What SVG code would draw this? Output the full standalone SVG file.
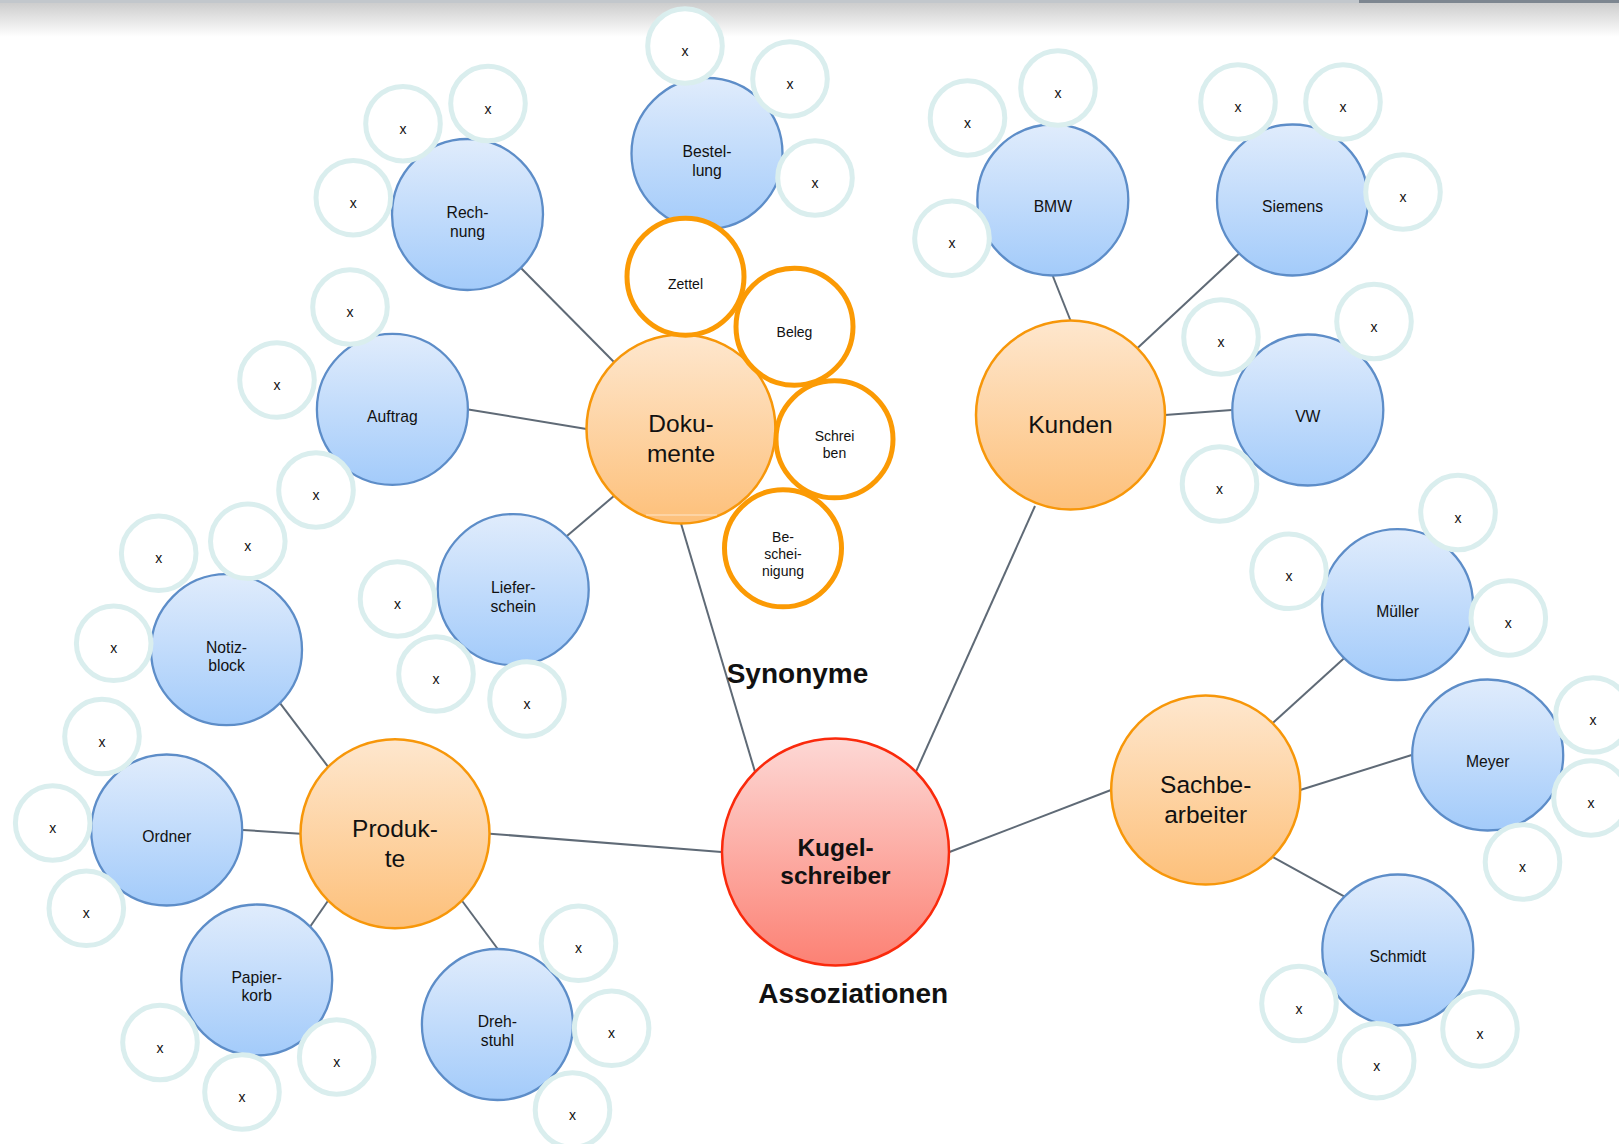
<svg xmlns="http://www.w3.org/2000/svg" width="1619" height="1144" viewBox="0 0 1619 1144">
<defs>
<linearGradient id="gBlue" x1="0" y1="0" x2="0" y2="1"><stop offset="0" stop-color="#e0ecfc"/><stop offset="1" stop-color="#a3cbfa"/></linearGradient>
<linearGradient id="gOrange" x1="0" y1="0" x2="0" y2="1"><stop offset="0" stop-color="#fee7ce"/><stop offset="1" stop-color="#fdc07a"/></linearGradient>
<linearGradient id="gRed" x1="0" y1="0" x2="0" y2="1"><stop offset="0" stop-color="#fdd8d5"/><stop offset="1" stop-color="#fc8174"/></linearGradient>
<linearGradient id="gTop" x1="0" y1="0" x2="0" y2="1"><stop offset="0" stop-color="#cdcdcd"/><stop offset="1" stop-color="#ffffff"/></linearGradient>
<style>
.blue{fill:url(#gBlue);stroke:#5d8dc8;stroke-width:2.3}
.orange{fill:url(#gOrange);stroke:#f7970a;stroke-width:2.5}
.red{fill:url(#gRed);stroke:#fa2a0c;stroke-width:2.5}
.syn{fill:#fff;stroke:#fb9a04;stroke-width:5}
.xc{fill:#fff;stroke:#daeeee;stroke-width:5}
.ln{stroke:#5f6a76;stroke-width:2;fill:none}
text{font-family:"Liberation Sans",Arial,sans-serif;fill:#111;text-anchor:middle}
.tb{font-size:15.7px}
.to{font-size:24.5px}
.tk{font-size:24.5px;font-weight:bold}
.ts{font-size:14px}
.tx{font-size:14px}
.lab{font-size:28px;font-weight:bold;text-anchor:start}
</style>
</defs>
<rect width="1619" height="1144" fill="#fff"/>
<rect x="0" y="3" width="1619" height="34" fill="url(#gTop)"/>
<rect x="0" y="0" width="1619" height="3" fill="#c2c7cc"/>
<rect x="1359" y="0" width="260" height="3" fill="#7d8690"/>

<g id="connectors">
<line class="ln" x1="681" y1="523.5" x2="754.9" y2="771.4"/>
<line class="ln" x1="1035" y1="506" x2="916.1" y2="771.4"/>
<line class="ln" x1="490" y1="833.7" x2="721.5" y2="852"/>
<line class="ln" x1="1111" y1="790" x2="949.5" y2="852"/>
<line class="ln" x1="614.2" y1="362.2" x2="521.2" y2="268.2"/>
<line class="ln" x1="586.5" y1="429" x2="468.4" y2="409.4"/>
<line class="ln" x1="614.2" y1="495.8" x2="566.9" y2="535.9"/>
<line class="ln" x1="1070.5" y1="320.5" x2="1052.8" y2="276"/>
<line class="ln" x1="1137.3" y1="348.2" x2="1238.8" y2="253.7"/>
<line class="ln" x1="1165" y1="415" x2="1231.8" y2="410"/>
<line class="ln" x1="1272.5" y1="723.2" x2="1343.8" y2="658.4"/>
<line class="ln" x1="1300.2" y1="790" x2="1411.7" y2="755"/>
<line class="ln" x1="1272.5" y1="856.8" x2="1344.1" y2="896.3"/>
<line class="ln" x1="328.2" y1="766.9" x2="280.2" y2="703.4"/>
<line class="ln" x1="300.5" y1="833.7" x2="242.7" y2="830"/>
<line class="ln" x1="328.2" y1="900.5" x2="310.4" y2="926.3"/>
<line class="ln" x1="461.8" y1="900.5" x2="497.4" y2="948.5"/>
</g>

<g id="kugelschreiber"><circle class="red" cx="835.5" cy="852" r="113.5"/><text class="tk" x="835.5" y="856">Kugel-</text><text class="tk" x="835.5" y="884">schreiber</text></g>
<g id="dokumente"><circle class="orange" cx="681" cy="429" r="94.5"/><line x1="646" y1="515" x2="717" y2="515" stroke="#fff" stroke-opacity="0.6" stroke-width="1"/><text class="to" x="681" y="431.7">Doku-</text><text class="to" x="681" y="461.7">mente</text></g>
<g id="kunden"><circle class="orange" cx="1070.5" cy="415" r="94.5"/><text class="to" x="1070.5" y="433.3">Kunden</text></g>
<g id="sachbearbeiter"><circle class="orange" cx="1205.7" cy="790" r="94.5"/><text class="to" x="1205.7" y="792.5">Sachbe-</text><text class="to" x="1205.7" y="822.5">arbeiter</text></g>
<g id="produkte"><circle class="orange" cx="395" cy="833.7" r="94.5"/><text class="to" x="395" y="836.5">Produk-</text><text class="to" x="395" y="866.5">te</text></g>

<g id="rechnung"><circle class="blue" cx="467.5" cy="214.5" r="75.5"/><text class="tb" x="467.5" y="217.7">Rech-</text><text class="tb" x="467.5" y="236.5">nung</text></g>
<g id="bestellung"><circle class="blue" cx="707" cy="153.5" r="75.5"/><text class="tb" x="707" y="156.7">Bestel-</text><text class="tb" x="707" y="175.5">lung</text></g>
<g id="auftrag"><circle class="blue" cx="392.4" cy="409.4" r="75.5"/><text class="tb" x="392.4" y="421.7">Auftrag</text></g>
<g id="lieferschein"><circle class="blue" cx="513.2" cy="589.6" r="75.5"/><text class="tb" x="513.2" y="592.8">Liefer-</text><text class="tb" x="513.2" y="611.6">schein</text></g>
<g id="bmw"><circle class="blue" cx="1052.8" cy="200" r="75.5"/><text class="tb" x="1052.8" y="212.3">BMW</text></g>
<g id="siemens"><circle class="blue" cx="1292.5" cy="200" r="75.5"/><text class="tb" x="1292.5" y="212.3">Siemens</text></g>
<g id="vw"><circle class="blue" cx="1307.8" cy="410" r="75.5"/><text class="tb" x="1307.8" y="422.3">VW</text></g>
<g id="mueller"><circle class="blue" cx="1397.5" cy="604.7" r="75.5"/><text class="tb" x="1397.5" y="617.2">Müller</text></g>
<g id="meyer"><circle class="blue" cx="1487.7" cy="755" r="75.5"/><text class="tb" x="1487.7" y="767.3">Meyer</text></g>
<g id="schmidt"><circle class="blue" cx="1397.8" cy="950" r="75.5"/><text class="tb" x="1397.8" y="962.3">Schmidt</text></g>
<g id="notizblock"><circle class="blue" cx="226.5" cy="649.7" r="75.5"/><text class="tb" x="226.5" y="652.7">Notiz-</text><text class="tb" x="226.5" y="671">block</text></g>
<g id="ordner"><circle class="blue" cx="166.7" cy="830" r="75.5"/><text class="tb" x="166.7" y="842.3">Ordner</text></g>
<g id="papierkorb"><circle class="blue" cx="256.7" cy="980" r="75.5"/><text class="tb" x="256.7" y="982.8">Papier-</text><text class="tb" x="256.7" y="1001.3">korb</text></g>
<g id="drehstuhl"><circle class="blue" cx="497.4" cy="1024.5" r="75.5"/><text class="tb" x="497.4" y="1027">Dreh-</text><text class="tb" x="497.4" y="1045.8">stuhl</text></g>

<g id="zettel"><circle class="syn" cx="685.5" cy="276.7" r="58.5"/><text class="ts" x="685.5" y="289">Zettel</text></g>
<g id="beleg"><circle class="syn" cx="794.5" cy="326.7" r="58.5"/><text class="ts" x="794.5" y="337.3">Beleg</text></g>
<g id="schreiben"><circle class="syn" cx="834.5" cy="439.3" r="58.5"/><text class="ts" x="834.5" y="441.3">Schrei</text><text class="ts" x="834.5" y="457.7">ben</text></g>
<g id="bescheinigung"><circle class="syn" cx="783" cy="548.3" r="58.5"/><text class="ts" x="783" y="542.3">Be-</text><text class="ts" x="783" y="559">schei-</text><text class="ts" x="783" y="575.7">nigung</text></g>

<g id="x1"><circle class="xc" cx="685" cy="46" r="37.3"/><text class="tx" x="685" y="56">x</text></g>
<g id="x2"><circle class="xc" cx="790" cy="79" r="37.3"/><text class="tx" x="790" y="89">x</text></g>
<g id="x3"><circle class="xc" cx="815" cy="178" r="37.3"/><text class="tx" x="815" y="188">x</text></g>
<g id="x4"><circle class="xc" cx="488" cy="103.5" r="37.3"/><text class="tx" x="488" y="113.5">x</text></g>
<g id="x5"><circle class="xc" cx="403" cy="123.7" r="37.3"/><text class="tx" x="403" y="133.7">x</text></g>
<g id="x6"><circle class="xc" cx="353.3" cy="197.7" r="37.3"/><text class="tx" x="353.3" y="207.7">x</text></g>
<g id="x7"><circle class="xc" cx="350" cy="307" r="37.3"/><text class="tx" x="350" y="317">x</text></g>
<g id="x8"><circle class="xc" cx="277" cy="380" r="37.3"/><text class="tx" x="277" y="390">x</text></g>
<g id="x9"><circle class="xc" cx="316" cy="490" r="37.3"/><text class="tx" x="316" y="500">x</text></g>
<g id="x10"><circle class="xc" cx="397.5" cy="599" r="37.3"/><text class="tx" x="397.5" y="609">x</text></g>
<g id="x11"><circle class="xc" cx="436" cy="674" r="37.3"/><text class="tx" x="436" y="684">x</text></g>
<g id="x12"><circle class="xc" cx="527" cy="699" r="37.3"/><text class="tx" x="527" y="709">x</text></g>
<g id="x13"><circle class="xc" cx="1058" cy="88" r="37.3"/><text class="tx" x="1058" y="98">x</text></g>
<g id="x14"><circle class="xc" cx="967.5" cy="118" r="37.3"/><text class="tx" x="967.5" y="128">x</text></g>
<g id="x15"><circle class="xc" cx="952" cy="238.3" r="37.3"/><text class="tx" x="952" y="248.3">x</text></g>
<g id="x16"><circle class="xc" cx="1238" cy="102" r="37.3"/><text class="tx" x="1238" y="112">x</text></g>
<g id="x17"><circle class="xc" cx="1343" cy="102" r="37.3"/><text class="tx" x="1343" y="112">x</text></g>
<g id="x18"><circle class="xc" cx="1403" cy="192" r="37.3"/><text class="tx" x="1403" y="202">x</text></g>
<g id="x19"><circle class="xc" cx="1221" cy="337" r="37.3"/><text class="tx" x="1221" y="347">x</text></g>
<g id="x20"><circle class="xc" cx="1374" cy="321.5" r="37.3"/><text class="tx" x="1374" y="331.5">x</text></g>
<g id="x21"><circle class="xc" cx="1219.5" cy="484" r="37.3"/><text class="tx" x="1219.5" y="494">x</text></g>
<g id="x22"><circle class="xc" cx="1458" cy="512.5" r="37.3"/><text class="tx" x="1458" y="522.5">x</text></g>
<g id="x23"><circle class="xc" cx="1289" cy="571.3" r="37.3"/><text class="tx" x="1289" y="581.3">x</text></g>
<g id="x24"><circle class="xc" cx="1508.3" cy="618" r="37.3"/><text class="tx" x="1508.3" y="628">x</text></g>
<g id="x25"><circle class="xc" cx="1593" cy="715" r="37.3"/><text class="tx" x="1593" y="725">x</text></g>
<g id="x26"><circle class="xc" cx="1591" cy="798" r="37.3"/><text class="tx" x="1591" y="808">x</text></g>
<g id="x27"><circle class="xc" cx="1522.5" cy="862" r="37.3"/><text class="tx" x="1522.5" y="872">x</text></g>
<g id="x28"><circle class="xc" cx="1299" cy="1003.5" r="37.3"/><text class="tx" x="1299" y="1013.5">x</text></g>
<g id="x29"><circle class="xc" cx="1376.7" cy="1060.7" r="37.3"/><text class="tx" x="1376.7" y="1070.7">x</text></g>
<g id="x30"><circle class="xc" cx="1480" cy="1029" r="37.3"/><text class="tx" x="1480" y="1039">x</text></g>
<g id="x31"><circle class="xc" cx="158.7" cy="553.3" r="37.3"/><text class="tx" x="158.7" y="563.3">x</text></g>
<g id="x32"><circle class="xc" cx="247.8" cy="541.3" r="37.3"/><text class="tx" x="247.8" y="551.3">x</text></g>
<g id="x33"><circle class="xc" cx="113.7" cy="643.3" r="37.3"/><text class="tx" x="113.7" y="653.3">x</text></g>
<g id="x34"><circle class="xc" cx="102" cy="736.5" r="37.3"/><text class="tx" x="102" y="746.5">x</text></g>
<g id="x35"><circle class="xc" cx="52.7" cy="823" r="37.3"/><text class="tx" x="52.7" y="833">x</text></g>
<g id="x36"><circle class="xc" cx="86.3" cy="908.3" r="37.3"/><text class="tx" x="86.3" y="918.3">x</text></g>
<g id="x37"><circle class="xc" cx="160" cy="1042.5" r="37.3"/><text class="tx" x="160" y="1052.5">x</text></g>
<g id="x38"><circle class="xc" cx="242" cy="1092" r="37.3"/><text class="tx" x="242" y="1102">x</text></g>
<g id="x39"><circle class="xc" cx="336.7" cy="1057" r="37.3"/><text class="tx" x="336.7" y="1067">x</text></g>
<g id="x40"><circle class="xc" cx="578.5" cy="943.3" r="37.3"/><text class="tx" x="578.5" y="953.3">x</text></g>
<g id="x41"><circle class="xc" cx="611.6" cy="1028.3" r="37.3"/><text class="tx" x="611.6" y="1038.3">x</text></g>
<g id="x42"><circle class="xc" cx="572.5" cy="1110" r="37.3"/><text class="tx" x="572.5" y="1120">x</text></g>

<text class="lab" x="726.7" y="682.7">Synonyme</text>
<text class="lab" x="758.3" y="1003.3">Assoziationen</text>
</svg>
